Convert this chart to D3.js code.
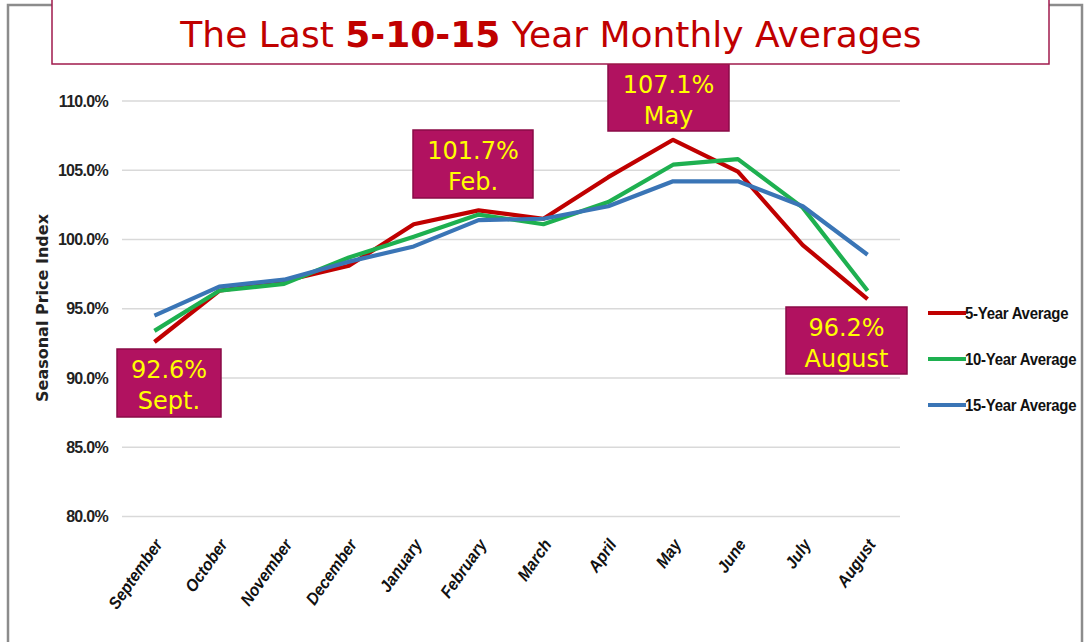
<!DOCTYPE html>
<html>
<head>
<meta charset="utf-8">
<script src="https://cdn.jsdelivr.net/npm/d3@7"></script>
<style>
  html, body { margin: 0; padding: 0; background: #ffffff; }
  svg { display: block; }
</style>
</head>
<body>
<svg id="chart" width="1089" height="642"></svg>
<script>
// ---------- data ----------
const months = ["September","October","November","December","January","February","March","April","May","June","July","August"];
const fiveYear    = [92.6, 96.3, 97.0, 98.1, 101.1, 102.1, 101.5, 104.5, 107.2, 104.9, 99.6, 95.7];
const tenYear     = [93.4, 96.3, 96.8, 98.7, 100.2, 101.8, 101.1, 102.7, 105.4, 105.8, 102.3, 96.3];
const fifteenYear = [94.5, 96.6, 97.1, 98.4,  99.5, 101.4, 101.5, 102.4, 104.2, 104.2, 102.4, 98.9];
const seriesNames = ["5-Year Average","10-Year Average","15-Year Average"];
const yTicks = [80, 85, 90, 95, 100, 105, 110];
const titleParts = [["The Last ", false], ["5-10-15", true], [" Year Monthly Averages", false]];
const callouts = [
  { month: "September", value: "92.6%", label: "Sept." },
  { month: "February",  value: "101.7%", label: "Feb." },
  { month: "May",       value: "107.1%", label: "May" },
  { month: "August",    value: "96.2%", label: "August" }
];

// ---------- styles ----------
const colors = ["#c00000", "#1eb050", "#3a75b6"];
const calloutBoxes = { // box geometry in pixels (layout, not data)
  "September": { x: 117, y: 349, w: 104, h: 68 },
  "February":  { x: 413, y: 130, w: 120, h: 68 },
  "May":       { x: 608, y: 64,  w: 121, h: 67 },
  "August":    { x: 786, y: 307, w: 121, h: 67 }
};

const svg = d3.select("#chart");

// outer frame
svg.append("rect").attr("x", 8).attr("y", 5).attr("width", 1074).attr("height", 660)
  .attr("fill", "none").attr("stroke", "#8c8c8c").attr("stroke-width", 2.5);

// scales
const x = d3.scaleBand().domain(months).range([122, 900]);
const y = d3.scaleLinear().domain([80, 110]).range([516.5, 101]);
const cx = m => x(m) + x.bandwidth() / 2;

// gridlines
svg.append("g").selectAll("line").data(yTicks).join("line")
  .attr("x1", 122).attr("x2", 900)
  .attr("y1", d => y(d)).attr("y2", d => y(d))
  .attr("stroke", "#d9d9d9").attr("stroke-width", 1.6);

// y axis labels
const yAxis = d3.axisLeft(y).tickValues(yTicks).tickSize(0).tickPadding(0)
  .tickFormat(d => d3.format(".1f")(d) + "%");
const yg = svg.append("g").attr("transform", "translate(108,0)").call(yAxis);
yg.select(".domain").remove();
yg.selectAll("text")
  .attr("font-family", "'Liberation Sans', Arial, sans-serif")
  .attr("font-weight", "bold").attr("font-size", 16).attr("fill", "#222")
  .attr("letter-spacing", -0.7);

// y axis title
svg.append("text")
  .attr("transform", "translate(48,308) rotate(-90)")
  .attr("text-anchor", "middle")
  .attr("font-family", "'DejaVu Sans', sans-serif").attr("font-weight", "bold")
  .attr("font-size", 16).attr("fill", "#222")
  .text("Seasonal Price Index");

// x axis labels
const xAxis = d3.axisBottom(x).tickSize(0).tickPadding(0);
const xg = svg.append("g").attr("transform", "translate(0,541)").call(xAxis);
xg.select(".domain").remove();
xg.selectAll("text")
  .attr("font-family", "'Liberation Sans', Arial, sans-serif")
  .attr("font-weight", "bold").attr("font-style", "italic").attr("font-size", 17).attr("fill", "#111")
  .attr("text-anchor", "end").attr("dy", "0.35em")
  .attr("transform", "translate(4,0) rotate(-55) scale(0.92,1)");

// lines
const allSeries = [fiveYear, tenYear, fifteenYear];
const line = d3.line().x((d, i) => cx(months[i])).y(d => y(d));
svg.append("g").selectAll("path").data(allSeries).join("path")
  .attr("d", d => line(d))
  .attr("fill", "none")
  .attr("stroke", (d, i) => colors[i])
  .attr("stroke-width", 4.2)
  .attr("stroke-linejoin", "round");

// legend
const legendY = [313, 359, 405];
const lg = svg.append("g").selectAll("g").data(seriesNames).join("g")
  .attr("transform", (d, i) => `translate(928,${legendY[i]})`);
lg.append("line").attr("x1", 0).attr("x2", 38).attr("y1", 0).attr("y2", 0)
  .attr("stroke", (d, i) => colors[i]).attr("stroke-width", 4.2);
lg.append("text").attr("transform", "translate(37,0) scale(0.88,1)").attr("dy", "0.35em")
  .attr("font-family", "'Liberation Sans', Arial, sans-serif")
  .attr("font-weight", "bold").attr("font-size", 17).attr("fill", "#111")
  .attr("letter-spacing", -0.3)
  .text(d => d);

// callouts
const cg = svg.append("g").selectAll("g").data(callouts).join("g");
cg.append("rect")
  .attr("x", d => calloutBoxes[d.month].x).attr("y", d => calloutBoxes[d.month].y)
  .attr("width", d => calloutBoxes[d.month].w).attr("height", d => calloutBoxes[d.month].h)
  .attr("fill", "#b11260").attr("stroke", "#8a0b47").attr("stroke-width", 1.5);
cg.append("text")
  .attr("x", d => calloutBoxes[d.month].x + calloutBoxes[d.month].w / 2)
  .attr("y", d => calloutBoxes[d.month].y + 21)
  .attr("text-anchor", "middle").attr("dy", "0.35em")
  .attr("font-family", "'DejaVu Sans', sans-serif").attr("font-size", 24).attr("fill", "#ffff00")
  .text(d => d.value);
cg.append("text")
  .attr("x", d => calloutBoxes[d.month].x + calloutBoxes[d.month].w / 2)
  .attr("y", d => calloutBoxes[d.month].y + 52)
  .attr("text-anchor", "middle").attr("dy", "0.35em")
  .attr("font-family", "'DejaVu Sans', sans-serif").attr("font-size", 24).attr("fill", "#ffff00")
  .text(d => d.label);

// title box
svg.append("rect").attr("x", 52).attr("y", -2).attr("width", 997).attr("height", 66)
  .attr("fill", "#ffffff").attr("stroke", "#a01a4c").attr("stroke-width", 1.5);
const title = svg.append("text").attr("x", 551).attr("y", 47).attr("text-anchor", "middle")
  .attr("font-family", "'DejaVu Sans', sans-serif").attr("font-size", 36).attr("fill", "#c00000");
title.selectAll("tspan").data(titleParts).join("tspan")
  .attr("font-weight", d => d[1] ? "bold" : "normal")
  .text(d => d[0]);
</script>
</body>
</html>
